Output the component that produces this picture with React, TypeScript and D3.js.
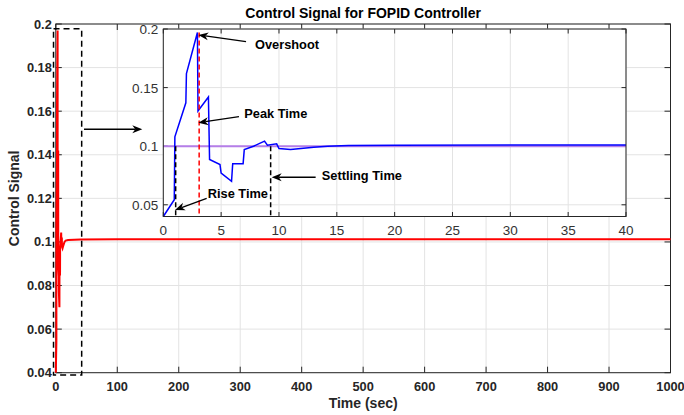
import React from "react";
import * as d3 from "d3";

// ---- data ----
const timeSec = [0, 0.95, 1.0, 1.95, 2.0, 2.95, 3.0, 3.9, 4.0, 4.9, 5.0, 5.9, 6.0, 6.9, 7.0, 7.8, 8.75, 9.0, 9.8, 10.0, 11.0, 11.9, 13.0, 14.2, 16, 20, 40, 100, 300, 600, 1000];
const controlSignal = [0.04, 0.0543, 0.108, 0.137, 0.162, 0.197, 0.130, 0.142, 0.0886, 0.0843, 0.0771, 0.0700, 0.0851, 0.0851, 0.0971, 0.1000, 0.1043, 0.1009, 0.1020, 0.0980, 0.0971, 0.0980, 0.0990, 0.1000, 0.1006, 0.1009, 0.1011, 0.1012, 0.1012, 0.1012, 0.1012];
const setpoint = [0.1, 0.1];
const setpointTime = [0, 40];

const mainXTicks = [0, 100, 200, 300, 400, 500, 600, 700, 800, 900, 1000];
const mainYTicks = [0.04, 0.06, 0.08, 0.1, 0.12, 0.14, 0.16, 0.18, 0.2];
const insetXTicks = [0, 5, 10, 15, 20, 25, 30, 35, 40];
const insetYTicks = [0.05, 0.1, 0.15, 0.2];

const riseTime = 1.07;
const peakTime = 3.1;
const settlingTime = 9.28;

const FONT = "'Liberation Sans', Arial, Helvetica, sans-serif";

function Arrow({ x1, y1, x2, y2 }: { x1: number; y1: number; x2: number; y2: number }) {
  const ang = Math.atan2(y2 - y1, x2 - x1);
  const L = 10, W = 4, back = 7;
  const c = Math.cos(ang), s = Math.sin(ang);
  const p = (dx: number, dy: number) => [x2 + dx * c - dy * s, y2 + dx * s + dy * c];
  const a = p(-L, -W), b = p(-back, 0), d = p(-L, W);
  return (
    <g>
      <line x1={x1} y1={y1} x2={b[0]} y2={b[1]} stroke="#000" strokeWidth={1.3} />
      <path d={`M${x2},${y2}L${a[0]},${a[1]}L${b[0]},${b[1]}L${d[0]},${d[1]}Z`} fill="#000" />
    </g>
  );
}

export default function App() {
  const W = 684, H = 415;
  const x = d3.scaleLinear([0, 1000], [55.8, 670.5]);
  const y = d3.scaleLinear([0.04, 0.2], [372.7, 24]);
  const ix = d3.scaleLinear([0, 40], [163.3, 626]);
  const iy = d3.scaleLinear([0.04, 0.2], [216.5, 29]);

  const pts = timeSec.map((t, i) => [t, controlSignal[i]] as [number, number]);
  const mainLine = d3.line<[number, number]>().x((d) => x(d[0])).y((d) => y(d[1]))(pts)!;
  const insetPts = pts.filter((d) => d[0] <= 40);
  const insetLine = d3.line<[number, number]>().x((d) => ix(d[0])).y((d) => iy(d[1]))(insetPts)!;
  const spLine = d3.line<[number, number]>().x((d) => ix(d[0])).y((d) => iy(d[1]))(
    setpointTime.map((t, i) => [t, setpoint[i]] as [number, number])
  )!;

  const [mx0, mx1] = x.range();
  const [my0, my1] = y.range();
  const [ix0, ix1] = ix.range();
  const [iy0, iy1] = iy.range();
  const tickLen = 6;
  const iTick = 4.5;

  return (
    <svg width={W} height={H} style={{ position: "absolute", left: 0, top: 0, background: "#fff" }} fontFamily={FONT}>
      <rect x={0} y={0} width={W} height={H} fill="#fff" />
      {/* main grid */}
      {mainXTicks.map((t) => (
        <line key={"gx" + t} x1={x(t)} x2={x(t)} y1={my0} y2={my1} stroke="#e3e3e3" strokeWidth={1} />
      ))}
      {mainYTicks.map((t) => (
        <line key={"gy" + t} x1={mx0} x2={mx1} y1={y(t)} y2={y(t)} stroke="#e3e3e3" strokeWidth={1} />
      ))}
      {/* main ticks inward */}
      {mainXTicks.map((t) => (
        <g key={"tx" + t}>
          <line x1={x(t)} x2={x(t)} y1={my0} y2={my0 - tickLen} stroke="#262626" />
          <line x1={x(t)} x2={x(t)} y1={my1} y2={my1 + tickLen} stroke="#262626" />
          <text x={x(t)} y={my0 + 18} textAnchor="middle" fontSize={12.8} fontWeight="bold" fill="#262626">{t}</text>
        </g>
      ))}
      {mainYTicks.map((t) => (
        <g key={"ty" + t}>
          <line x1={mx0} x2={mx0 + tickLen} y1={y(t)} y2={y(t)} stroke="#262626" />
          <line x1={mx1} x2={mx1 - tickLen} y1={y(t)} y2={y(t)} stroke="#262626" />
          <text x={mx0 - 4} y={y(t) + 4.5} textAnchor="end" fontSize={12.8} fontWeight="bold" fill="#262626">{d3.format("")(+t.toFixed(2))}</text>
        </g>
      ))}
      <rect x={mx0} y={my1} width={mx1 - mx0} height={my0 - my1} fill="none" stroke="#262626" strokeWidth={1} />

      {/* main red curve */}
      <path d={mainLine} fill="none" stroke="#ff0000" strokeWidth={2} />

      {/* zoom box */}
      <rect x={x(-3.7)} y={y(0.1978)} width={x(42.1) - x(-3.7)} height={y(0.0389) - y(0.1978)} fill="none" stroke="#000" strokeWidth={1.5} strokeDasharray="6,4" />
      <Arrow x1={x(45.9)} y1={y(0.1517)} x2={x(140.7)} y2={y(0.1517)} />

      {/* labels */}
      <text x={(mx0 + mx1) / 2} y={18} textAnchor="middle" fontSize={14} fontWeight="bold" fill="#000">Control Signal for FOPID Controller</text>
      <text x={(mx0 + mx1) / 2} y={408} textAnchor="middle" fontSize={14} fontWeight="bold" fill="#262626">Time (sec)</text>
      <text transform={`translate(19,${(my0 + my1) / 2}) rotate(-90)`} textAnchor="middle" fontSize={14} fontWeight="bold" fill="#262626">Control Signal</text>

      {/* inset */}
      <rect x={ix0} y={iy1} width={ix1 - ix0} height={iy0 - iy1} fill="#fff" />
      {insetXTicks.map((t) => (
        <line key={"igx" + t} x1={ix(t)} x2={ix(t)} y1={iy0} y2={iy1} stroke="#e3e3e3" />
      ))}
      {insetYTicks.map((t) => (
        <line key={"igy" + t} x1={ix0} x2={ix1} y1={iy(t)} y2={iy(t)} stroke="#e3e3e3" />
      ))}
      {insetXTicks.map((t) => (
        <g key={"itx" + t}>
          <line x1={ix(t)} x2={ix(t)} y1={iy0} y2={iy0 - iTick} stroke="#262626" />
          <line x1={ix(t)} x2={ix(t)} y1={iy1} y2={iy1 + iTick} stroke="#262626" />
          <text x={ix(t)} y={iy0 + 18} textAnchor="middle" fontSize={13.5} fill="#333">{t}</text>
        </g>
      ))}
      {insetYTicks.map((t) => (
        <g key={"ity" + t}>
          <line x1={ix0} x2={ix0 + iTick} y1={iy(t)} y2={iy(t)} stroke="#262626" />
          <line x1={ix1} x2={ix1 - iTick} y1={iy(t)} y2={iy(t)} stroke="#262626" />
          <text x={ix0 - 5} y={iy(t) + 5} textAnchor="end" fontSize={13.5} fill="#333">{String(+t.toFixed(2))}</text>
        </g>
      ))}
      <path d={spLine} fill="none" stroke="#b57ee8" strokeWidth={2} />
      <path d={insetLine} fill="none" stroke="#0000ff" strokeWidth={1.5} />

      {/* dashed marker lines */}
      <line x1={ix(riseTime)} x2={ix(riseTime)} y1={iy(0.1)} y2={iy0} stroke="#000" strokeWidth={1.5} strokeDasharray="5,3" />
      <line x1={ix(peakTime)} x2={ix(peakTime)} y1={iy(0.197)} y2={iy0} stroke="#ff0000" strokeWidth={1.5} strokeDasharray="5,3" />
      <line x1={ix(settlingTime)} x2={ix(settlingTime)} y1={iy(0.1)} y2={iy0} stroke="#000" strokeWidth={1.5} strokeDasharray="5,3" />
      <rect x={ix0} y={iy1} width={ix1 - ix0} height={iy0 - iy1} fill="none" stroke="#262626" strokeWidth={1} />

      {/* annotations */}
      <Arrow x1={ix(7.15)} y1={iy(0.1892)} x2={ix(3.03)} y2={iy(0.1949)} />
      <text x={ix(7.93)} y={iy(0.1872) + 4.5} fontSize={12.8} fontWeight="bold">Overshoot</text>
      <Arrow x1={ix(6.54)} y1={iy(0.1252)} x2={ix(3.03)} y2={iy(0.12)} />
      <text x={ix(7.0)} y={iy(0.128) + 4.5} fontSize={12.8} fontWeight="bold">Peak Time</text>
      <Arrow x1={ix(3.75)} y1={iy(0.0555)} x2={ix(1.01)} y2={iy(0.0456)} />
      <text x={ix(3.84)} y={iy(0.0598) + 4.5} fontSize={12.8} fontWeight="bold">Rise Time</text>
      <Arrow x1={ix(13.17)} y1={iy(0.0735)} x2={ix(9.37)} y2={iy(0.0735)} />
      <text x={ix(13.7)} y={iy(0.0746) + 4.5} fontSize={12.8} fontWeight="bold">Settling Time</text>
    </svg>
  );
}
